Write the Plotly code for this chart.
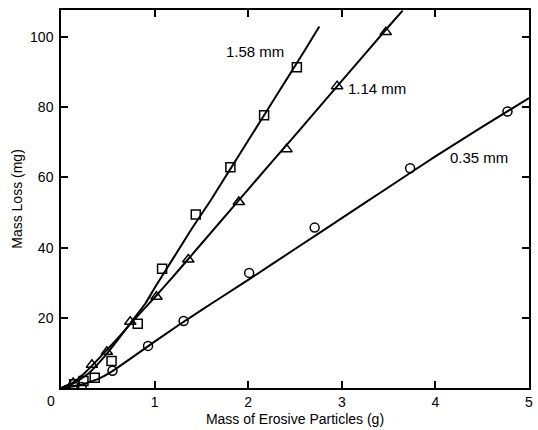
import plotly.graph_objects as go

# Measured points (mass of erosive particles, g  -> mass loss, mg)
sq_x = [0.14, 0.24, 0.36, 0.54, 0.82, 1.08, 1.44, 1.81, 2.17, 2.52]
sq_y = [1.1, 2.0, 2.9, 7.7, 18.3, 34.0, 49.4, 62.9, 77.7, 91.4]

tri_x = [0.13, 0.33, 0.49, 0.74, 1.02, 1.36, 1.90, 2.41, 2.95, 3.47]
tri_y = [1.4, 6.6, 10.3, 18.9, 26.0, 36.6, 53.0, 68.0, 86.0, 101.4]

cir_x = [0.22, 0.55, 0.93, 1.31, 2.01, 2.71, 3.73, 4.77]
cir_y = [0.3, 4.9, 12.0, 19.1, 32.8, 45.7, 62.6, 78.8]

# Fitted curves
c158_x = [0, 0.15, 0.3, 0.45, 0.6, 0.75, 0.9, 1.0, 1.2, 1.4, 1.6, 1.8, 2.0, 2.2, 2.4, 2.6, 2.76]
c158_y = [0, 1.5, 4.3, 8.5, 13.5, 18.8, 24.0, 28.5, 37.0, 45.5, 53.5, 62.0, 70.5, 79.0, 87.5, 96.0, 103.0]

c114_x = [0, 0.125, 0.25, 0.4, 0.6, 0.8, 1.0, 1.2, 1.4, 1.6, 1.8, 2.0, 2.5, 3.0, 3.5, 3.65]
c114_y = [0, 1.5, 4.2, 8.3, 14.0, 20.0, 25.8, 31.8, 38.0, 44.2, 50.4, 56.6, 72.0, 87.5, 103.0, 107.5]

c035_x = [0, 0.2, 0.4, 0.55, 0.75, 1.0, 1.25, 1.5, 1.75, 2.0, 2.5, 3.0, 3.5, 4.0, 4.5, 5.0]
c035_y = [0, 0.8, 2.6, 4.8, 8.5, 13.2, 17.8, 22.2, 26.5, 30.8, 39.6, 48.4, 57.2, 66.0, 74.4, 82.6]

labels = ["1.58 mm", "1.14 mm", "0.35 mm"]
label_x = [2.07, 3.38, 4.47]
label_y = [96.0, 85.4, 65.7]

x_ticks = [1, 2, 3, 4, 5]
y_ticks = [20, 40, 60, 80, 100]

FONT = "Liberation Sans"
fig = go.Figure()

for cx, cy in [(c158_x, c158_y), (c114_x, c114_y), (c035_x, c035_y)]:
    fig.add_trace(go.Scatter(x=cx, y=cy, mode="lines", line=dict(color="black", width=2, shape="spline", smoothing=0.3),
                             showlegend=False, hoverinfo="skip"))

for px, py, sym, sz in [(sq_x, sq_y, "square-open", 9), (tri_x, tri_y, "triangle-up-open", 10), (cir_x, cir_y, "circle-open", 9)]:
    fig.add_trace(go.Scatter(x=px, y=py, mode="markers",
                             marker=dict(symbol=sym, size=sz, color="black", line=dict(width=1.5, color="black")),
                             showlegend=False))

for t, lx, ly in zip(labels, label_x, label_y):
    fig.add_annotation(x=lx, y=ly, text=t, showarrow=False, font=dict(family=FONT, size=15, color="black"))

fig.add_annotation(x=0, y=0, xref="x", yref="y", text="0", showarrow=False, xshift=-10, yshift=-13,
                   font=dict(family=FONT, size=14, color="black"))

axis_common = dict(showline=True, linecolor="black", linewidth=1.5, mirror="ticks", ticks="inside",
                   ticklen=7, tickwidth=1.5, tickcolor="black", showgrid=False, zeroline=False,
                   tickfont=dict(family=FONT, size=14, color="black"))

fig.update_xaxes(range=[0, 5], tickvals=x_ticks, ticktext=[str(v) for v in x_ticks],
                 title=dict(text="Mass of Erosive Particles (g)", font=dict(family=FONT, size=14, color="black"), standoff=6),
                 **axis_common)
fig.update_yaxes(range=[0, 107.7], tickvals=y_ticks, ticktext=[str(v) for v in y_ticks],
                 ticklabelstandoff=3,
                 title=dict(text="Mass Loss (mg)", font=dict(family=FONT, size=14, color="black"), standoff=4),
                 **axis_common)

fig.update_layout(width=538, height=430, margin=dict(l=61, r=5, t=10, b=42),
                  paper_bgcolor="white", plot_bgcolor="white")

fig.write_html("out.html")
